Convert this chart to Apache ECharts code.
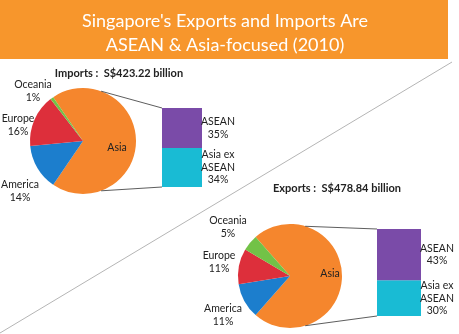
<!DOCTYPE html>
<html><head><meta charset="utf-8">
<script src="https://cdn.jsdelivr.net/npm/echarts@6/dist/echarts.min.js"></script>
<style>html,body{margin:0;padding:0;background:#fff}#c{width:459px;height:334px}</style>
</head><body><div id="c"></div>
<script>
// ---- data ----
const titleLines = ["Singapore's Exports and Imports Are", "ASEAN & Asia-focused (2010)"];
const regions = ['Asia', 'America', 'Europe', 'Oceania'];
const importShares = [69, 14, 16, 1];
const exportShares = [73, 11, 11, 5];
const asiaParts = ['ASEAN', 'Asia ex\nASEAN'];
const importAsiaSplit = [35, 34];
const exportAsiaSplit = [43, 30];
const importLabel = 'Imports :  S$423.22 billion';
const exportLabel = 'Exports :  S$478.84 billion';

// ---- layout / style ----
const FONT = 'Lato';
const regionColors = ['#F5862D', '#1C7ECD', '#DD2F3B', '#72C247'];
const partColors = ['#7A4BA8', '#19BBD4'];
const imp = { c: [83, 141], r: 53, bar: { x: 162, y: 108, w: 40, h: 79 } };
const exp = { c: [290, 276], r: 52, bar: { x: 377, y: 229, w: 44, h: 87 } };
const pieLabelPos = [
  [[117, 148], [20, 191], [18, 125.5], [33, 91.5]],
  [[330, 274], [223, 315], [219, 262], [228, 227.5]]
];
const barLabelGap = 16; // label centre distance from bar right edge

const chart = echarts.init(document.getElementById('c'), null, { renderer: 'canvas' });

function pieSeries(shares, g) {
  const total = shares.reduce((a, b) => a + b, 0);
  return {
    type: 'pie', center: g.c, radius: g.r,
    startAngle: 360 * shares[0] / total / 2, clockwise: true,
    animation: false, silent: true,
    data: regions.map((n, i) => ({ name: n, value: shares[i], itemStyle: { color: regionColors[i] } })),
    label: { show: false },
    labelLine: { show: false },
    itemStyle: { borderWidth: 0 }
  };
}

function pieLabels(shares, k) {
  return regions.map((n, i) => ({
    type: 'text', z: 10,
    x: pieLabelPos[k][i][0], y: pieLabelPos[k][i][1],
    style: {
      text: i === 0 ? n : n + '\n' + shares[i] + '%',
      align: 'center', verticalAlign: 'middle',
      fontFamily: FONT, fontSize: 10.5, lineHeight: 13, fill: '#222'
    }
  }));
}

function barSeries(split, gridIndex, stack) {
  const order = [1, 0]; // bottom first
  return order.map(i => ({
    type: 'bar', name: asiaParts[i], stack: stack,
    xAxisIndex: gridIndex, yAxisIndex: gridIndex,
    barWidth: '100%', animation: false, silent: true,
    data: [split[i]],
    itemStyle: { color: partColors[i] },
    label: {
      show: true, position: 'inside', align: 'center',
      fontFamily: FONT, fontSize: 10.5, color: '#222', lineHeight: 12.5,
      formatter: p => p.seriesName + '\n' + p.value + '%'
    }
  }));
}

function connector(g, ang) {
  const a = ang * Math.PI / 180;
  const px = g.c[0] + g.r * Math.cos(a), py = g.c[1] - g.r * Math.sin(a);
  const by = ang > 0 ? g.bar.y : g.bar.y + g.bar.h;
  return { type: 'line', z: 5, shape: { x1: px, y1: py, x2: g.bar.x, y2: by },
           style: { stroke: '#333', lineWidth: 0.8 } };
}

const option = {
  backgroundColor: '#fff',
  title: [
    { text: titleLines.join('\n'), left: 225, top: 9, textAlign: 'center', padding: 0,
      textStyle: { color: '#fff', fontFamily: FONT, fontSize: 18, fontWeight: 'normal', lineHeight: 24 } },
    { text: importLabel, left: 119, top: 67, textAlign: 'center', padding: 0,
      textStyle: { color: '#222', fontFamily: FONT, fontSize: 11, fontWeight: 'bold', lineHeight: 13 } },
    { text: exportLabel, left: 337, top: 182, textAlign: 'center', padding: 0,
      textStyle: { color: '#222', fontFamily: FONT, fontSize: 11, fontWeight: 'bold', lineHeight: 13 } }
  ],
  grid: [
    { left: imp.bar.x, top: imp.bar.y, width: imp.bar.w, height: imp.bar.h },
    { left: exp.bar.x, top: exp.bar.y, width: exp.bar.w, height: exp.bar.h }
  ],
  xAxis: [
    { type: 'category', data: ['Asia'], gridIndex: 0, show: false },
    { type: 'category', data: ['Asia'], gridIndex: 1, show: false }
  ],
  yAxis: [
    { type: 'value', gridIndex: 0, show: false, min: 0, max: importAsiaSplit[0] + importAsiaSplit[1] },
    { type: 'value', gridIndex: 1, show: false, min: 0, max: exportAsiaSplit[0] + exportAsiaSplit[1] }
  ],
  labelLayout: function (p) {
    if (p.seriesIndex <= 1) return {};
    const lr = p.labelRect;
    const cx = lr.x + lr.width / 2;
    const r = p.rect;
    return { dx: r.x + r.width + barLabelGap - cx, dy: 0 };
  },
  graphic: [
    { type: 'rect', z: -1, shape: { x: 0, y: 0, width: 448, height: 59 }, style: { fill: '#F7962C' } },
    { type: 'line', z: -1, shape: { x1: 0, y1: 333, x2: 452, y2: 62 }, style: { stroke: '#b5b5b5', lineWidth: 1 } },
    connector(imp, 70), connector(imp, -70),
    connector(exp, 73), connector(exp, -73),
    ...pieLabels(importShares, 0),
    ...pieLabels(exportShares, 1)
  ],
  series: [
    pieSeries(importShares, imp),
    pieSeries(exportShares, exp),
    ...barSeries(importAsiaSplit, 0, 'imp'),
    ...barSeries(exportAsiaSplit, 1, 'exp')
  ]
};
chart.setOption(option);
</script>
</body></html>
